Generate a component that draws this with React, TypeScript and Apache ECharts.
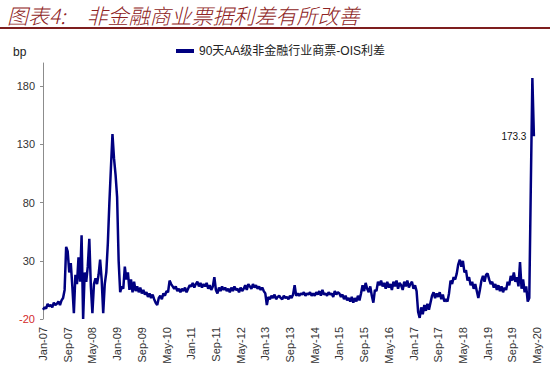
import React, { useEffect, useRef } from "react";
import * as echarts from "echarts";

const titleText = "图表4:　非金融商业票据利差有所改善";
const seriesName = "90天AA级非金融行业商票-OIS利差";
const unitLabel = "bp";
const annotationText = "173.3";
const yTickValues = [-20, 30, 80, 130, 180];
const monthNames = ["Jan", "Feb", "Mar", "Apr", "May", "Jun", "Jul", "Aug", "Sep", "Oct", "Nov", "Dec"];

// half-month values (two per month)
const v2007 = [-12, -10, -11, -7, -9, -8, -10, -6, -8, -7, -5, -8, -4, -2, 5, 42, 38, 20, 28, 8, -15, 18, 10, 33];
const v2008 = [12, 52, -20, 20, 12, 25, 49, 8, -15, 10, 15, 10, 18, 31, 14, -15, 10, 20, 45, 80, 110, 139, 118, 104];
const v2009 = [85, 30, 3, 8, 6, 25, 14, 20, 5, 14, 3, 12, 4, 8, 3, 7, 2, 5, 1, 3, -1, 2, -2, 1];
const v2010 = [-3, -6, -8, -2, 0, -3, 2, 0, 4, 3, 13, 10, 8, 6, 8, 4, 6, 3, 6, 4, 7, 3, 6, 9];
const v2011 = [8, 11, 7, 10, 12, 8, 11, 7, 10, 8, 11, 6, 9, 5, 8, 16, 5, 2, 7, 4, 8, 5, 7, 4];
const v2012 = [6, 3, 7, 4, 8, 5, 6, 3, 7, 4, 6, 9, 5, 10, 8, 6, 10, 7, 9, 6, 8, 5, 7, 4];
const v2013 = [2, -8, -1, -3, 0, -2, 1, -3, -1, 0, -2, -3, 0, -2, -1, -3, 0, -2, 1, 9, 0, 2, 0, 2];
const v2014 = [1, 3, 0, 2, 1, 3, 0, 2, 0, 3, 1, 4, 0, 5, 1, 2, 0, 3, 1, 2, -1, 4, 1, 3];
const v2015 = [2, -1, 1, -3, 0, -4, -2, -5, -1, -6, -2, -5, 0, -4, 2, 9, 4, 11, 6, 3, 8, 0, -6, 5];
const v2016 = [4, 12, 9, 13, 8, 11, 6, 12, 7, 10, 5, 12, 8, 13, 6, 11, 9, 5, 12, 8, 13, 7, 10, 12];
const v2017 = [6, 9, 4, -14, -19, -10, -16, -8, -13, -7, -12, -6, 0, 3, -2, 2, -1, 3, -3, 1, -5, -3, -5, 2];
const v2018 = [13, 10, 16, 14, 19, 27, 31, 25, 30, 20, 22, 13, 16, 9, 12, 6, 10, 4, -2, 5, 13, 17, 12, 18];
const v2019 = [19, 14, 10, 12, 7, 10, 5, 9, 4, 8, 3, 7, 5, 12, 9, 17, 13, 20, 12, 16, 8, 29, 6, 14];
const v2020 = [3, 8, -5, -2, 95, 187, 137];

const values = [
  ...v2007, ...v2008, ...v2009, ...v2010, ...v2011, ...v2012, ...v2013,
  ...v2014, ...v2015, ...v2016, ...v2017, ...v2018, ...v2019, ...v2020,
];

// half-month categories from Jan-07 to the first half of May-20
const categories: string[] = [];
for (let y = 2007; y <= 2020; y++) {
  for (let m = 0; m < 12; m++) {
    for (let h = 0; h < 2; h++) {
      if (y === 2020 && (m > 4 || (m === 4 && h > 0))) continue;
      categories.push(`${y}-${String(m + 1).padStart(2, "0")}-${h === 0 ? "01" : "16"}`);
    }
  }
}

const fontLatin = '"Liberation Sans", Arial, "Noto Sans CJK SC", sans-serif';

export default function App() {
  const ref = useRef<HTMLDivElement>(null);
  useEffect(() => {
    document.body.style.margin = "0";
    const chart = echarts.init(ref.current!, undefined, { renderer: "svg" });
    const lastIdx = values.length - 1;
    chart.setOption({
      animation: false,
      grid: { left: 43, right: 13, top: 63, bottom: 56 },
      legend: {
        data: [seriesName],
        left: 171,
        top: 40,
        icon: "rect",
        itemWidth: 18,
        itemHeight: 4,
        textStyle: { fontSize: 12, color: "#222", fontFamily: fontLatin },
      },
      xAxis: {
        type: "category",
        data: categories,
        boundaryGap: false,
        axisLine: { show: false },
        axisTick: { show: false },
        splitLine: { show: false },
        axisLabel: {
          interval: 15,
          rotate: 90,
          margin: 8,
          fontSize: 11,
          color: "#333",
          fontFamily: fontLatin,
          formatter: (val: string) => {
            const [y, m] = val.split("-");
            return `${monthNames[Number(m) - 1]}-${y.slice(2)}`;
          },
        },
      },
      yAxis: {
        type: "value",
        min: -20,
        max: 200,
        axisLine: { show: true, lineStyle: { color: "#8c8c8c", width: 1 } },
        axisTick: {
          show: true,
          length: 3,
          customValues: yTickValues,
          lineStyle: { color: "#8c8c8c" },
        },
        splitLine: { show: false },
        axisLabel: {
          customValues: yTickValues,
          fontSize: 11,
          margin: 8,
          fontFamily: fontLatin,
          color: (v: any) => (Number(v) === -20 ? "#D42A2A" : "#333"),
        },
      },
      series: [
        {
          type: "line",
          name: seriesName,
          data: values,
          symbol: "none",
          showSymbol: false,
          lineStyle: { color: "#000080", width: 2.5 },
          itemStyle: { color: "#000080" },
          markPoint: {
            symbol: "circle",
            symbolSize: 1,
            silent: true,
            itemStyle: { color: "rgba(0,0,0,0)" },
            label: {
              show: true,
              position: "left",
              distance: 7,
              formatter: annotationText,
              fontSize: 10,
              color: "#111",
              fontFamily: fontLatin,
            },
            data: [{ coord: [categories[lastIdx], values[lastIdx]] }],
          },
        },
      ],
      graphic: [
        {
          type: "text",
          left: 7,
          top: 4,
          style: {
            text: titleText,
            fontSize: 21,
            fontStyle: "italic",
            fontWeight: 300,
            fontFamily: '"Noto Sans CJK SC", sans-serif',
            fill: "#8E2323",
          },
        },
        {
          type: "rect",
          shape: { x: 0, y: 27, width: 550, height: 2 },
          style: { fill: "#7E1E1E" },
        },
        {
          type: "text",
          left: 13,
          top: 46,
          style: { text: unitLabel, fontSize: 12, fill: "#222", fontFamily: fontLatin },
        },
      ],
    });
    return () => chart.dispose();
  }, []);
  return (
    <div
      ref={ref}
      style={{ width: 550, height: 375, position: "absolute", left: 0, top: 0 }}
    />
  );
}
